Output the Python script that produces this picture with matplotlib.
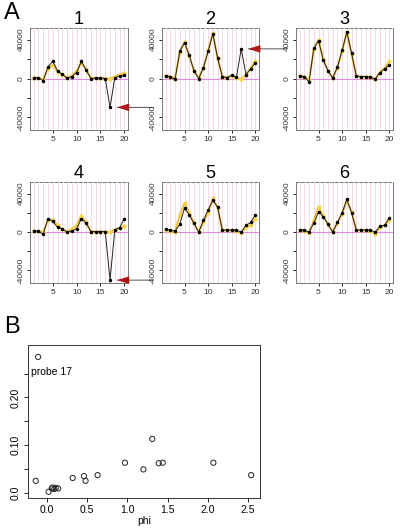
import numpy as np
import matplotlib.pyplot as plt

plt.rcParams['font.family'] = ['Liberation Sans', 'DejaVu Sans']

# ---- data: panel A, observed (black) and fitted (orange) intensity per probe
probes = list(range(1, 21))

obs = {
    1: [1000, 1000, -2400, 12000, 17800, 8000, 4500, 300, 2000, 6000,
        17800, 8500, 0, 500, 500, 0, -29700, 1000, 2400, 3400],
    2: [3000, 2000, -1000, 28000, 37000, 24000, 8000, 0, 11000, 28000,
        46000, 21000, 2000, 1000, 3500, 1500, 30500, 4000, 10000, 16000],
    3: [2500, 2000, -3500, 31000, 39000, 19000, 8000, 500, 12000, 29000,
        48000, 26000, 2500, 2000, 2000, 1500, -500, 6000, 10000, 14000],
    4: [1000, 1000, -2500, 14000, 11000, 5000, 3000, 0, 1000, 3500,
        14000, 9000, 500, 500, 500, 500, -50000, 2500, 4500, 14000],
    5: [3000, 2000, 1000, 8000, 25000, 18000, 9000, 0, 12000, 23000,
        33000, 26000, 2000, 2000, 2000, 2000, 0, 7000, 10000, 18000],
    6: [2000, 2000, 0, 9000, 21000, 16000, 8000, 0, 10000, 20000,
        34000, 20000, 2000, 2000, 2000, 2000, 0, 6000, 7000, 15000],
}
fit = {
    1: [1000, 500, -500, 10000, 14000, 7000, 4000, 1000, 3000, 8000,
        16000, 9000, 500, 500, 500, 0, 0, 2000, 4000, 6000],
    2: [3000, 2000, 0, 27000, 38000, 23000, 8000, 500, 11000, 29000,
        47000, 21000, 2000, 1000, 3000, 1000, -1000, 4000, 11000, 18000],
    3: [2500, 2000, -2000, 30000, 40000, 20000, 8000, 500, 11000, 28000,
        48000, 25000, 2500, 2000, 2000, 1500, -1000, 7000, 11000, 18000],
    4: [1000, 1000, 0, 12000, 13000, 7000, 3000, 500, 3000, 7000,
        17000, 10000, 500, 500, 500, 500, 0, 2500, 4000, 6000],
    5: [2500, 1500, 0, 18000, 30000, 20000, 9000, 500, 10000, 20000,
        35000, 25000, 2000, 2000, 2000, 1500, -1500, 5000, 7000, 14000],
    6: [2000, 1500, -1000, 12000, 26000, 17000, 8000, 500, 9000, 19000,
        33000, 21000, 2000, 2000, 2000, 1500, -2000, 5000, 7000, 12000],
}
# outlier arrows: panel -> probe
outliers = {1: 17, 2: 17, 4: 17}

# ---- data: panel B
phi = [-0.11, -0.14, 0.02, 0.06, 0.07, 0.09, 0.11, 0.14, 0.32, 0.46,
       0.48, 0.63, 0.97, 1.20, 1.31, 1.39, 1.44, 2.07, 2.54]
score = [0.285, 0.025, 0.002, 0.009, 0.011, 0.008, 0.010, 0.009, 0.031, 0.035,
         0.025, 0.037, 0.063, 0.049, 0.113, 0.062, 0.063, 0.063, 0.037]

W, H = 400, 532
fig = plt.figure(figsize=(4, 5.32), dpi=100)

def box(l, r, t, b):
    return [l / W, 1 - b / H, (r - l) / W, (b - t) / H]

lefts = [(30, 128), (162, 259), (296, 393)]
rows = [(28, 130), (182, 283)]

for k in range(1, 7):
    row, col = divmod(k - 1, 3)
    l, r = lefts[col]
    t, b = rows[row]
    ax = fig.add_axes(box(l, r, t, b))
    for p in probes:
        ax.axvline(p, color='#f3d3e8', lw=0.6, zorder=0)
    ax.axhline(0, color='#e08ae0', lw=0.8, zorder=1)
    ax.plot(probes, fit[k], color='#f4bc3a', lw=1.4, marker='o', ms=2.0,
            mfc='#f7d648', mec='#f7d648', zorder=2)
    ax.plot(probes, obs[k], color='#222222', lw=0.7, marker='o', ms=1.5,
            mfc='black', mec='black', zorder=3)
    ax.set_xlim(0.24, 20.76)
    ax.set_ylim(-53000, 52000)
    ax.set_xticks([5, 10, 15, 20])
    ax.set_yticks([-40000, -20000, 0, 20000, 40000])
    ax.set_yticklabels(['-40000', '', '0', '', '40000'], rotation=90, va='center')
    ax.tick_params(labelsize=6, length=2.5, width=0.6, pad=1.5, labelcolor='#333333')
    for s in ax.spines.values():
        s.set_color('#777777')
        s.set_linewidth(0.7)
    ax.spines['top'].set_linestyle((0, (3, 2)))
    ax.set_title(str(k), fontsize=13, pad=3)

    if k in outliers:
        p = outliers[k]
        y = obs[k][p - 1]
        ax.annotate('', xy=(p + 0.9, y), xytext=(30, 0), textcoords='offset points',
                    arrowprops=dict(arrowstyle='-', color='#333333', lw=0.6),
                    annotation_clip=False)
        ax.annotate('', xy=(p + 0.9, y), xytext=(8, 0), textcoords='offset points',
                    arrowprops=dict(arrowstyle='-|>,head_length=0.7,head_width=0.22',
                                    color='#b01515', lw=0.8),
                    annotation_clip=False)

fig.text(4 / W, 1 - 13 / H, 'A', fontsize=17, va='center', ha='left')
fig.text(4 / W, 1 - 327 / H, 'B', fontsize=17, va='center', ha='left')

axb = fig.add_axes(box(28, 260, 345, 498))
axb.scatter(phi, score, s=14, facecolors='none', edgecolors='#222222', linewidths=0.7)
axb.text(-0.2, 0.254, 'probe 17', fontsize=7.5, ha='left', va='center')
axb.set_xlim(-0.236, 2.65)
axb.set_ylim(-0.011, 0.31)
axb.set_xticks([0.0, 0.5, 1.0, 1.5, 2.0, 2.5])
axb.set_xticklabels(['0.0', '0.5', '1.0', '1.5', '2.0', '2.5'])
axb.set_yticks([0.0, 0.05, 0.10, 0.15, 0.20, 0.25])
axb.set_yticklabels(['0.0', '', '0.10', '', '0.20', ''], rotation=90, va='center')
axb.tick_params(labelsize=7.5, length=3, width=0.6, pad=2)
axb.set_xlabel('phi', fontsize=7.5, labelpad=1)
for s in axb.spines.values():
    s.set_linewidth(0.7)
    s.set_color('#333333')

fig.savefig('out.png', dpi=100)
